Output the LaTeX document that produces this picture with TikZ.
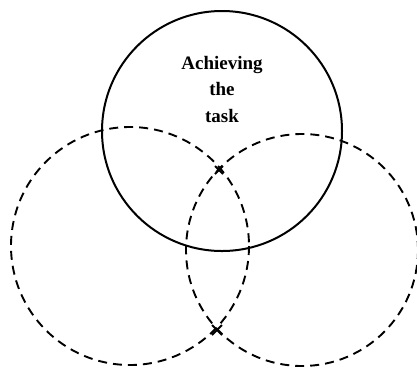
\documentclass[tikz,border=0pt]{standalone}
\usepackage{fontspec}
\setmainfont{Liberation Serif}
\usetikzlibrary{calc}
\tikzset{
  solidring/.style={line width=2pt},
  dashring/.style={line width=1.9pt, dash pattern=on 9pt off 6pt},
  crossmark/.style={line width=2pt},
  label/.style={font=\bfseries\fontsize{19}{26.5}\selectfont, align=center, inner sep=0pt}
}
\begin{document}
\begin{tikzpicture}[x=1pt,y=-1pt]
\path[use as bounding box] (0,0) rectangle (417,376);
\draw[solidring] (222,131) circle (120);
\draw[dashring] (130,246) circle (119);
\draw[dashring] (302,250) circle (116);
\node[label] (task) at (222,89) {Achieving\\the\\task};
\coordinate (top) at (219,170);
\coordinate (bot) at (217,330);
\draw[crossmark] ($(top)+(-4,-4)$) -- ($(top)+(4,4)$) ($(top)+(-4,4)$) -- ($(top)+(4,-4)$);
\draw[crossmark] ($(bot)+(-5,-5)$) -- ($(bot)+(5,5)$) ($(bot)+(-5,5)$) -- ($(bot)+(5,-5)$);
\end{tikzpicture}
\end{document}
